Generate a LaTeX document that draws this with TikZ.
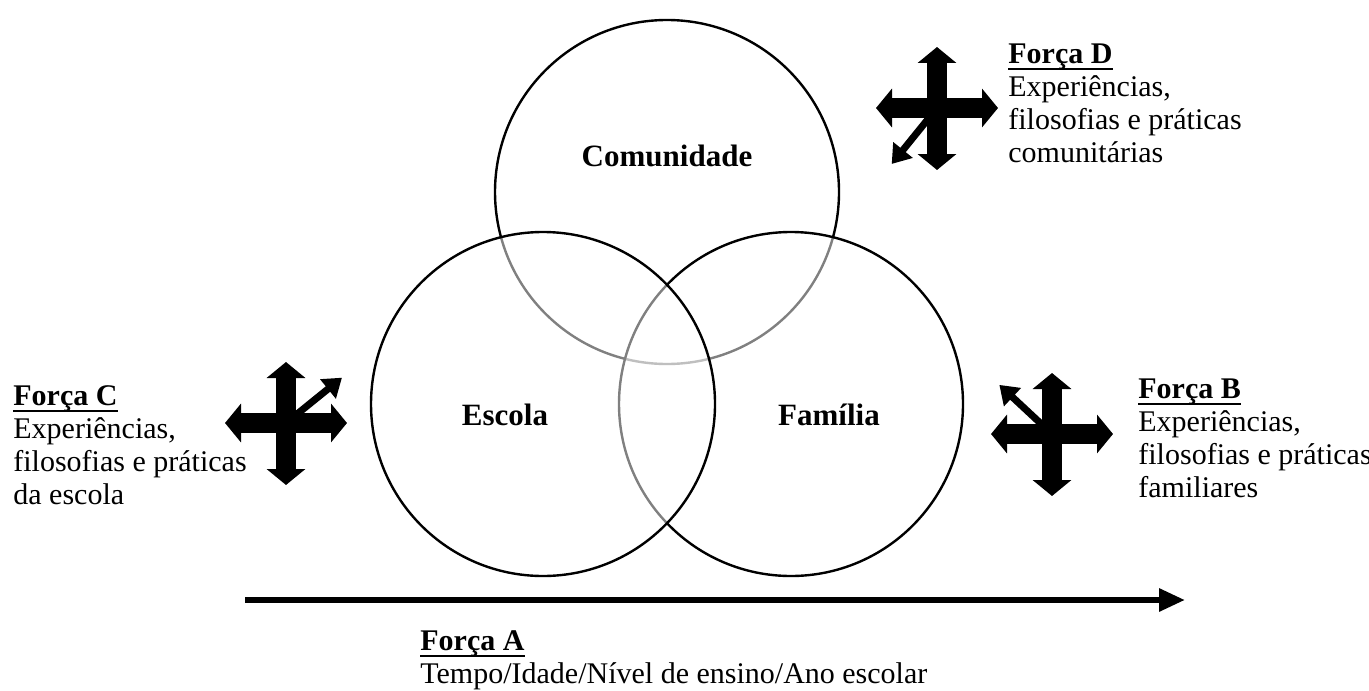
\documentclass[tikz,border=0pt]{standalone}
\usepackage{fontspec}
\setmainfont{Liberation Serif}
\usetikzlibrary{arrows.meta}

\newcommand\forcatitle[1]{\setbox0=\hbox{\textbf{#1}}\rlap{\rule[-3.4pt]{\wd0}{1.1pt}}\box0}

\tikzset{
  circ/.style={draw, circle, line width=1.2pt, minimum size=172pt, inner sep=0pt},
  veil/.style={fill=white, fill opacity=0.5},
  lbl/.style={font=\fontsize{15.5}{18}\selectfont\bfseries},
  forca/.style={align=left, anchor=north west, inner sep=0pt, font=\fontsize{15}{16.5}\selectfont},
  arm/.style={line width=10pt, {Triangle[width=19pt,length=8pt]}-{Triangle[width=19pt,length=8pt]}},
  diag/.style={line width=3.5pt, -{Triangle[width=12pt,length=9pt]}},
  timeline/.style={line width=3pt, -{Triangle[width=11pt,length=13pt]}}
}

\begin{document}
\begin{tikzpicture}[x=0.5pt, y=-0.5pt]
\useasboundingbox (0,0) rectangle (1369,690);

% Circles
\node (comunidade) [circ] at (667,192) {};
\node (familia) [circ, veil] at (791,404) {};
\node (escola) [circ, veil] at (543,404) {};

\node (comunidadetxt) [lbl] at (667,156) {Comunidade};
\node (escolatxt) [lbl] at (505,415) {Escola};
\node (familiatxt) [lbl] at (829,415) {Família};

% Forces
\node (forcaD) [forca] at (1008,43) {\forcatitle{Força D}\\Experiências,\\filosofias e práticas\\comunitárias};
\node (forcaC) [forca] at (13,385) {\forcatitle{Força C}\\Experiências,\\filosofias e práticas\\da escola};
\node (forcaB) [forca] at (1138,378) {\forcatitle{Força B}\\Experiências,\\filosofias e práticas\\familiares};

% Crosses
\coordinate (crossD) at (937,108);
\coordinate (crossC) at (286,423);
\coordinate (crossB) at (1052,434);

\foreach \c/\a in {crossD/231, crossC/39, crossB/137}{
  \draw[diag] (\c) -- ++(\a:36pt);
  \draw[arm] ([yshift=30.5pt]\c) -- ([yshift=-31pt]\c);
  \draw[arm] ([xshift=-30.5pt]\c) -- ([xshift=30.5pt]\c);
}

% Time
\coordinate (tstart) at (245,600);
\coordinate (tend) at (1185,600);
\draw[timeline] (tstart) -- (tend);
\node (forcaA) [forca] at (420,630) {\forcatitle{Força A}\\Tempo/Idade/Nível de ensino/Ano escolar};
\end{tikzpicture}
\end{document}
